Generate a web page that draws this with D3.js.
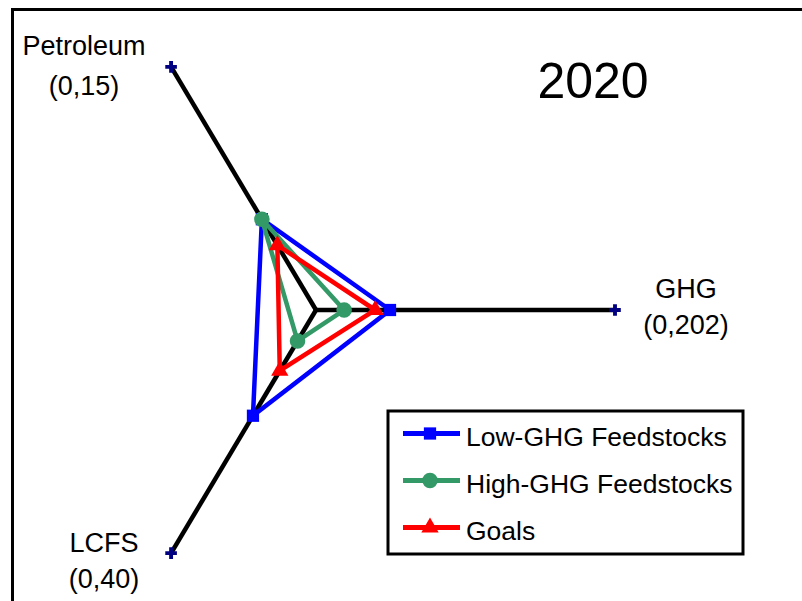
<!DOCTYPE html>
<html>
<head>
<meta charset="utf-8">
<script src="https://cdn.jsdelivr.net/npm/d3@7"></script>
<style>
html,body{margin:0;padding:0;background:#fff;}
svg{display:block;}
text{font-family:"Liberation Sans",Arial,sans-serif;fill:#000;}
</style>
</head>
<body>
<script>
// ---- data ----
const axisNames = ["GHG", "Petroleum", "LCFS"];
const axisRanges = ["(0,202)", "(0,15)", "(0,40)"];
const axisMax = [202, 15, 40];
const seriesNames = ["Low-GHG Feedstocks", "High-GHG Feedstocks", "Goals"];
const lowGHG = [50, 5.6, 17.4];
const highGHG = [19, 5.6, 5.1];
const goals = [40, 4.0, 10];
const title = "2020";

// ---- layout ----
const W = 802, H = 601;
const cx = 316, cy = 310;
const axisAngles = [0, 120.8, 239.2];   // degrees, counter-clockwise
const axisLen = [299, 283, 283];
const colors = ["#0000ff", "#339966", "#ff0000"];
const symbols = [d3.symbolSquare, d3.symbolCircle, d3.symbolTriangle];
const symSizes = [150, 190, 130];

const svg = d3.select("body").append("svg").attr("width", W).attr("height", H);

// frame
svg.append("path").attr("d", `M12.5,${H} L12.5,9.5 L${W},9.5`)
  .attr("fill", "none").attr("stroke", "#000").attr("stroke-width", 3);

const scales = axisMax.map((m, i) => d3.scaleLinear().domain([0, m]).range([0, axisLen[i]]));
function pt(i, v) {
  const a = axisAngles[i] * Math.PI / 180;
  const r = scales[i](v);
  return [cx + r * Math.cos(a), cy - r * Math.sin(a)];
}

// axes
axisMax.forEach((m, i) => {
  const [x, y] = pt(i, m);
  svg.append("line").attr("x1", cx).attr("y1", cy).attr("x2", x).attr("y2", y)
    .attr("stroke", "#000").attr("stroke-width", 4.5);
  svg.append("path").attr("transform", `translate(${x},${y})`)
    .attr("d", d3.symbol(d3.symbolCross, 75)()).attr("fill", "#000080");
});

// axis labels
const labelPos = [[686, 298, 334], [84, 55, 95], [104, 552, 588]];
axisNames.forEach((n, i) => {
  const [x, y1, y2] = labelPos[i];
  svg.append("text").attr("x", x).attr("y", y1).attr("text-anchor", "middle")
    .attr("font-size", 27).text(n);
  svg.append("text").attr("x", x).attr("y", y2).attr("text-anchor", "middle")
    .attr("font-size", 27).text(axisRanges[i]);
});

// series
const series = [lowGHG, highGHG, goals];
const line = d3.line().curve(d3.curveLinearClosed);
series.forEach((vals, s) => {
  const pts = vals.map((v, i) => pt(i, v));
  svg.append("path").attr("d", line(pts)).attr("fill", "none")
    .attr("stroke", colors[s]).attr("stroke-width", 4.5).attr("stroke-linejoin", "miter");
  pts.forEach(p => {
    svg.append("path").attr("transform", `translate(${p[0]},${p[1]})`)
      .attr("d", d3.symbol(symbols[s], symSizes[s])()).attr("fill", colors[s]);
  });
});

// title
svg.append("text").attr("x", 593).attr("y", 98).attr("text-anchor", "middle")
  .attr("font-size", 50).text(title);

// legend
const lg = svg.append("g");
lg.append("rect").attr("x", 388).attr("y", 411).attr("width", 355).attr("height", 143)
  .attr("fill", "#fff").attr("stroke", "#000").attr("stroke-width", 3);
seriesNames.forEach((n, s) => {
  const y = 433.5 + s * 47;
  lg.append("line").attr("x1", 403).attr("x2", 460).attr("y1", y).attr("y2", y)
    .attr("stroke", colors[s]).attr("stroke-width", 5);
  lg.append("path").attr("transform", `translate(430,${y})`)
    .attr("d", d3.symbol(symbols[s], symSizes[s])()).attr("fill", colors[s]);
  lg.append("text").attr("x", 466).attr("y", y + 12).attr("font-size", 26.5).text(n);
});
</script>
</body>
</html>
